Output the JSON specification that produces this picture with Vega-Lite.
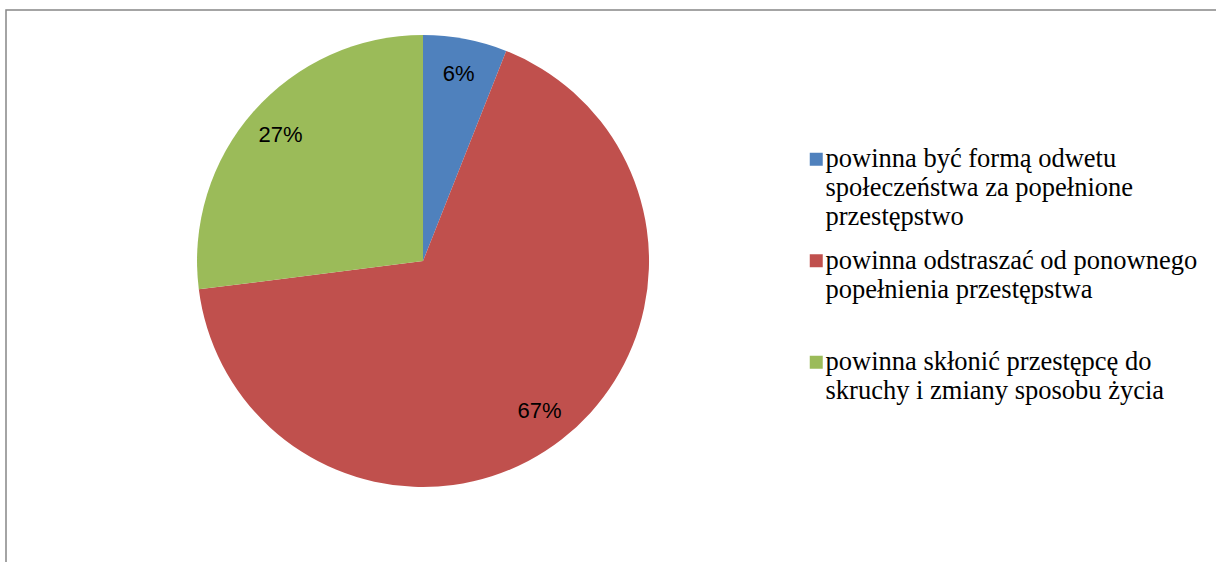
{
  "$schema": "https://vega.github.io/schema/vega-lite/v6.json",
  "width": 1216,
  "height": 562,
  "autosize": {"type": "fit", "contains": "padding"},
  "padding": {"left": 6, "top": 10, "right": -3, "bottom": -3},
  "background": "white",
  "config": {
    "view": {"stroke": "#878787", "strokeWidth": 1.5},
    "style": {"guide-label": {"lineHeight": 29}}
  },
  "data": {
    "values": [
      {"category": "powinna być formą odwetu społeczeństwa za popełnione przestępstwo", "share": 0.06},
      {"category": "powinna odstraszać od ponownego popełnienia przestępstwa", "share": 0.67},
      {"category": "powinna skłonić przestępcę do skruchy i zmiany sposobu życia", "share": 0.27}
    ]
  },
  "encoding": {
    "theta": {"field": "share", "type": "quantitative", "stack": true},
    "order": {"field": "category", "type": "ordinal", "sort": "ascending"},
    "x": {"datum": 0.3438, "type": "quantitative", "scale": {"domain": [0, 1]}, "axis": null},
    "y": {"datum": 0.4523, "type": "quantitative", "scale": {"domain": [0, 1], "reverse": true}, "axis": null}
  },
  "layer": [
    {
      "mark": {"type": "arc", "outerRadius": 226},
      "encoding": {
        "color": {
          "field": "category",
          "type": "nominal",
          "scale": {
            "domain": [
              "powinna być formą odwetu społeczeństwa za popełnione przestępstwo",
              "powinna odstraszać od ponownego popełnienia przestępstwa",
              "powinna skłonić przestępcę do skruchy i zmiany sposobu życia"
            ],
            "range": ["#4F81BD", "#C0504D", "#9BBB59"]
          },
          "legend": {
            "orient": "none",
            "legendX": 797,
            "legendY": 136,
            "padding": 0,
            "title": null,
            "symbolType": "square",
            "symbolSize": 169,
            "symbolStrokeWidth": 0,
            "labelFont": "Liberation Serif",
            "labelFontSize": 26.5,
            "labelColor": "black",
            "labelLimit": 0,
            "labelOffset": -4,
            "labelBaseline": "middle",
            "rowPadding": 16.5,
            "gridAlign": "all",
            "labelExpr": "indexof(datum.label,'odwetu')>=0 ? ['powinna być formą odwetu','społeczeństwa za popełnione','przestępstwo'] : indexof(datum.label,'odstraszać')>=0 ? ['powinna odstraszać od ponownego','popełnienia przestępstwa'] : ['powinna skłonić przestępcę do','skruchy i zmiany sposobu życia']"
          }
        }
      }
    },
    {
      "mark": {"type": "text", "radius": 190, "font": "Liberation Sans", "fontSize": 22, "color": "black"},
      "encoding": {
        "detail": {"field": "category", "type": "nominal"},
        "text": {"field": "share", "type": "quantitative", "format": ".0%"}
      }
    }
  ]
}
